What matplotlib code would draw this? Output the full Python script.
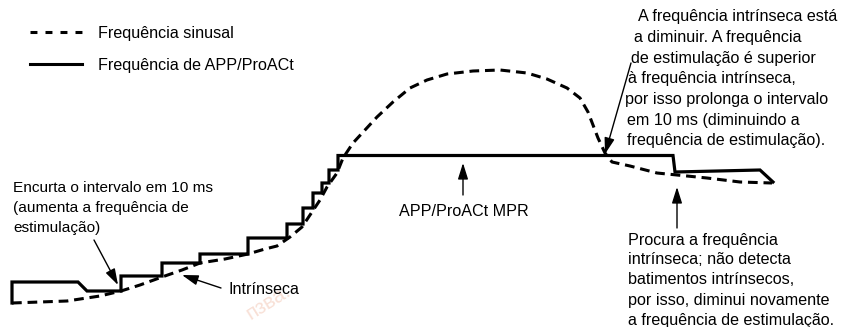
import matplotlib
matplotlib.use("Agg")
import matplotlib.pyplot as plt
from matplotlib.lines import Line2D

plt.rcParams["font.family"] = ["Liberation Sans", "DejaVu Sans"]
plt.rcParams["lines.scale_dashes"] = False

# values (x = time, y = rate, picture units, y grows downward)
app_x = [12, 12, 78, 87, 121, 121, 162, 162, 200, 200, 248, 248, 287, 287, 303, 303,
         313, 313, 322, 322, 329, 329, 338, 338, 673, 675, 760, 773]
app_y = [303, 282, 282, 291, 291, 276, 276, 263, 263, 254, 254, 238, 238, 224, 224, 208,
         208, 193, 193, 183, 183, 170, 170, 155.5, 155.5, 172, 170, 182]

sinus_x = [12, 40, 67, 100, 121, 140, 162, 182, 200, 225, 248, 265, 277, 290, 302, 310,
           320, 327, 337, 343, 353, 365, 377, 393, 410, 427, 447, 473, 500, 527, 547,
           567, 580, 588, 593, 598, 605, 612, 630, 657, 677, 707, 740, 772]
sinus_y = [303, 302, 301, 296, 291, 285, 277, 270, 263, 259, 254, 249, 246, 237, 227, 215,
           200, 187, 173, 158, 143, 130, 117, 102, 88, 80, 74, 71, 70, 73, 79,
           88, 98, 112, 125, 138, 153, 162, 166, 173, 175, 178, 182, 183]

legend_labels = ["Frequência sinusal", "Frequência de APP/ProACt"]

left_note = ["Encurta o intervalo em 10 ms", "(aumenta a frequência de", "estimulação)"]
top_note = ["A frequência intrínseca está", "a diminuir. A frequência",
            "de estimulação é superior", "à frequência intrínseca,",
            "por isso prolonga o intervalo", "em 10 ms (diminuindo a",
            "frequência de estimulação)."]
top_note_x = [638, 634, 631, 628, 625, 627, 627]
bottom_note = ["Procura a frequência", "intrínseca; não detecta",
               "batimentos intrínsecos,", "por isso, diminui novamente",
               "a frequência de estimulação."]

FS = 11.6
DASH = (7.0, 4.2)

fig = plt.figure(figsize=(8.42, 3.27), dpi=100)
ax = fig.add_axes([0, 0, 1, 1])
ax.set_xlim(0, 842)
ax.set_ylim(327, 0)
ax.axis("off")

# faint watermark
ax.text(268, 302, "пзва.", fontsize=15, color="#f8e0d6", rotation=32,
        ha="center", va="center", zorder=0)

ax.plot(sinus_x, sinus_y, color="black", lw=2.2, dashes=DASH, zorder=2)
ax.plot(app_x, app_y, color="black", lw=2.3, solid_joinstyle="miter", zorder=3)

handles = [Line2D([], [], color="black", lw=2.2, dashes=(5.0, 5.8)),
           Line2D([], [], color="black", lw=2.2)]
fig.legend(handles, legend_labels, loc="upper left", frameon=False,
           bbox_to_anchor=(30 / 842, 1 - 26 / 327), fontsize=FS,
           handlelength=3.2, handletextpad=1.0, labelspacing=1.05,
           borderpad=0, borderaxespad=0)


def lines_at(xs, y0, step, lines, size=FS):
    if not isinstance(xs, list):
        xs = [xs] * len(lines)
    for i, (x, s) in enumerate(zip(xs, lines)):
        ax.text(x, y0 + i * step, s, fontsize=size, ha="left", va="center")


lines_at(13, 188, 20, left_note, size=11.1)
lines_at(top_note_x, 17, 20.6, top_note)
lines_at(628, 240, 20, bottom_note)
ax.text(229, 290, "Intrínseca", fontsize=FS, ha="left", va="center")
ax.text(464, 212, "APP/ProACt MPR", fontsize=FS, ha="center", va="center")

arrow = dict(arrowstyle="-|>,head_length=0.7,head_width=0.22", color="black",
             lw=1.0, shrinkA=0, shrinkB=0, mutation_scale=14)
for tail, tip in [((94, 240), (118, 285)), ((221, 288), (182, 275)),
                  ((463, 195), (463, 163)), ((631, 63), (605, 154)),
                  ((677, 228), (677, 187))]:
    ax.annotate("", xy=tip, xytext=tail, arrowprops=arrow)

fig.savefig("out.png", dpi=100)
